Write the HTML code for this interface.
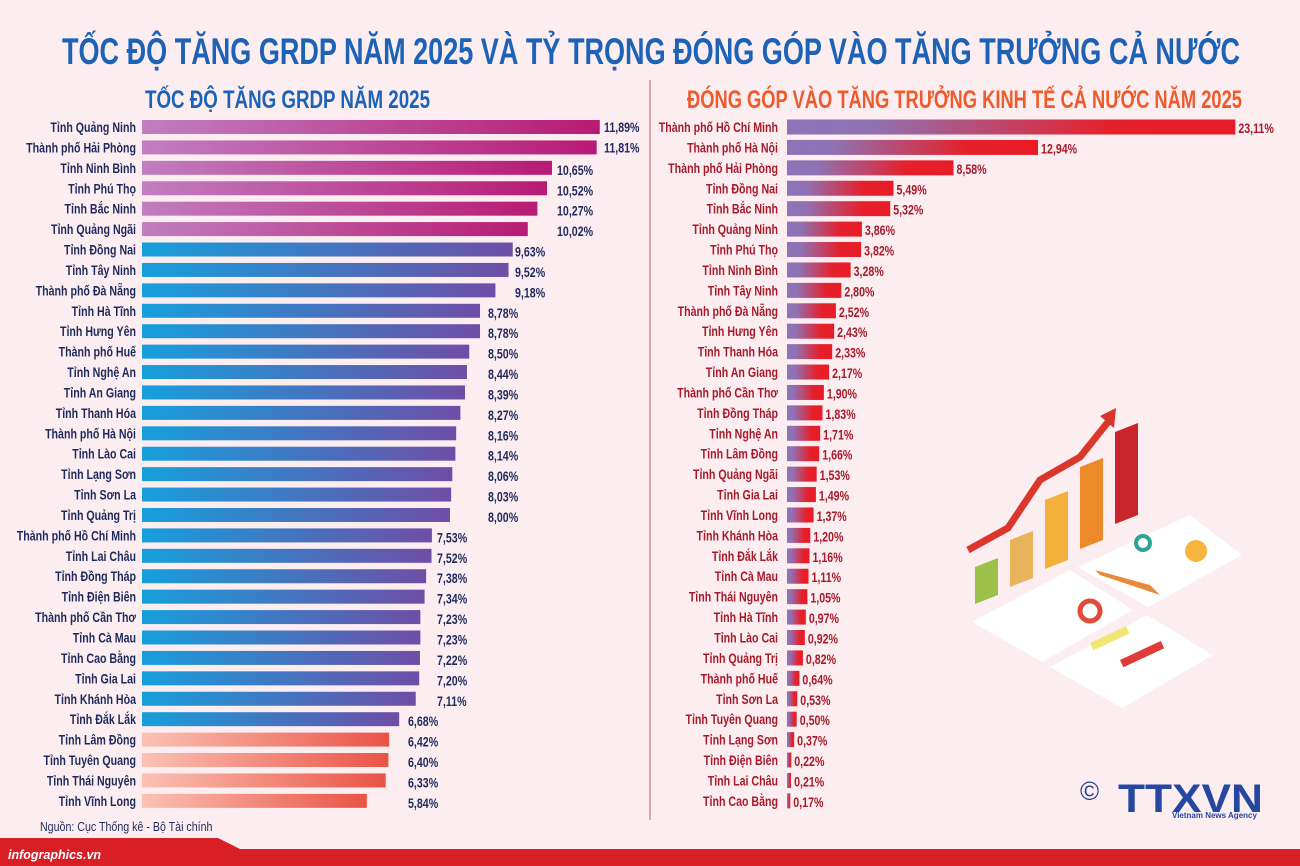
<!DOCTYPE html>
<html><head><meta charset="utf-8"><style>
html,body{margin:0;padding:0;background:#fcedf1;}
svg{display:block;}
.lb{font-family:"Liberation Sans",sans-serif;font-weight:bold;font-size:14px;fill:#1f2a5c;}
.rl{font-family:"Liberation Sans",sans-serif;font-weight:bold;font-size:14px;fill:#a61b2a;}
</style></head><body>
<svg width="1300" height="866" viewBox="0 0 1300 866" xmlns="http://www.w3.org/2000/svg">
<defs>
<linearGradient id="gp" x1="0" x2="1"><stop offset="0" stop-color="#c17ec0"/><stop offset="1" stop-color="#b81a74"/></linearGradient>
<linearGradient id="gb" x1="0" x2="1"><stop offset="0" stop-color="#169fdc"/><stop offset="1" stop-color="#6e4ea6"/></linearGradient>
<linearGradient id="gs" x1="0" x2="1"><stop offset="0" stop-color="#fbc2b4"/><stop offset="1" stop-color="#ea5346"/></linearGradient>
<linearGradient id="gr" x1="0" x2="1"><stop offset="0" stop-color="#8b74b8"/><stop offset="0.18" stop-color="#8f72b4"/><stop offset="0.72" stop-color="#e6202b"/><stop offset="1" stop-color="#e81c26"/></linearGradient>
</defs>
<rect width="1300" height="866" fill="#fcedf1"/>
<text x="62" y="64" textLength="1178" lengthAdjust="spacingAndGlyphs" font-family="Liberation Sans, sans-serif" font-weight="bold" font-size="37" fill="#1c62b6">TỐC ĐỘ TĂNG GRDP NĂM 2025 VÀ TỶ TRỌNG ĐÓNG GÓP VÀO TĂNG TRƯỞNG CẢ NƯỚC</text>
<text x="145" y="108" textLength="285" lengthAdjust="spacingAndGlyphs" font-family="Liberation Sans, sans-serif" font-weight="bold" font-size="25" fill="#1c62b6">TỐC ĐỘ TĂNG GRDP NĂM 2025</text>
<text x="687" y="108" textLength="555" lengthAdjust="spacingAndGlyphs" font-family="Liberation Sans, sans-serif" font-weight="bold" font-size="25" fill="#ef5a2a">ĐÓNG GÓP VÀO TĂNG TRƯỞNG KINH TẾ CẢ NƯỚC NĂM 2025</text>
<line x1="650" y1="80" x2="650" y2="820" stroke="#cc8fa0" stroke-width="1.5"/>
<g id="left"></g>
<g id="right"></g>
<g>
<polygon points="972,622 1070,570 1133,610 1042,662" fill="#fff"/>
<polygon points="1078,567 1190,515 1242,555 1148,607" fill="#fff"/>
<polygon points="1050,667 1147,615 1213,655 1122,708" fill="#fff"/>
<polygon points="975,567 998,558 998,595 975,604" fill="#9cc04a"/>
<polygon points="1010,540 1033,531 1033,578 1010,587" fill="#e8b35a"/>
<polygon points="1045,500 1068,491 1068,560 1045,569" fill="#f3b13c"/>
<polygon points="1080,467 1103,458 1103,540 1080,549" fill="#ec8a2a"/>
<polygon points="1115,432 1138,423 1138,515 1115,524" fill="#c8262a"/>
<polyline points="968,550 1008,528 1040,480 1080,457 1108,422" fill="none" stroke="#d9362c" stroke-width="7"/>
<polygon points="1100,416 1116,408 1114,428" fill="#d9362c"/>
<circle cx="1090" cy="611" r="10" fill="none" stroke="#e24a3a" stroke-width="5"/>
<circle cx="1196" cy="551" r="11" fill="#f6b43c"/>
<circle cx="1143" cy="543" r="7" fill="none" stroke="#2aa596" stroke-width="4"/>
<rect x="1090" y="643" width="40" height="8" fill="#f2e670" transform="rotate(-25 1090 643)"/>
<rect x="1120" y="660" width="45" height="8" fill="#e03a3a" transform="rotate(-25 1120 660)"/>
<polygon points="1095,570 1150,585 1160,595 1100,575" fill="#e88a3a"/>
</g>
<text x="1080" y="800" font-family="Liberation Sans, sans-serif" font-size="26" fill="#2a3e8e">©</text>
<text x="1118" y="812" textLength="145" lengthAdjust="spacingAndGlyphs" font-family="Liberation Sans, sans-serif" font-weight="bold" font-size="40" fill="#2647a0">TTXVN</text>
<text x="1172" y="818" font-family="Liberation Sans, sans-serif" font-weight="bold" font-size="8" fill="#2647a0">Vietnam News Agency</text>
<text x="40" y="831" font-family="Liberation Sans, sans-serif" font-size="13" fill="#1f2a5c" transform="translate(40,0) scale(0.82,1) translate(-40,0)">Nguồn: Cục Thống kê - Bộ Tài chính</text>
<polygon points="0,838 218,838 240,849 1300,849 1300,866 0,866" fill="#d81f26"/>
<text x="8" y="859" font-family="Liberation Sans, sans-serif" font-style="italic" font-weight="bold" font-size="12.5" fill="#fff">infographics.vn</text>
</svg>
<script>
var L=[["Tỉnh Quảng Ninh",11.89],["Thành phố Hải Phòng",11.81],["Tỉnh Ninh Bình",10.65],["Tỉnh Phú Thọ",10.52],["Tỉnh Bắc Ninh",10.27],["Tỉnh Quảng Ngãi",10.02],["Tỉnh Đồng Nai",9.63],["Tỉnh Tây Ninh",9.52],["Thành phố Đà Nẵng",9.18],["Tỉnh Hà Tĩnh",8.78],["Tỉnh Hưng Yên",8.78],["Thành phố Huế",8.50],["Tỉnh Nghệ An",8.44],["Tỉnh An Giang",8.39],["Tỉnh Thanh Hóa",8.27],["Thành phố Hà Nội",8.16],["Tỉnh Lào Cai",8.14],["Tỉnh Lạng Sơn",8.06],["Tỉnh Sơn La",8.03],["Tỉnh Quảng Trị",8.00],["Thành phố Hồ Chí Minh",7.53],["Tỉnh Lai Châu",7.52],["Tỉnh Đồng Tháp",7.38],["Tỉnh Điện Biên",7.34],["Thành phố Cần Thơ",7.23],["Tỉnh Cà Mau",7.23],["Tỉnh Cao Bằng",7.22],["Tỉnh Gia Lai",7.20],["Tỉnh Khánh Hòa",7.11],["Tỉnh Đắk Lắk",6.68],["Tỉnh Lâm Đồng",6.42],["Tỉnh Tuyên Quang",6.40],["Tỉnh Thái Nguyên",6.33],["Tỉnh Vĩnh Long",5.84]];
var R=[["Thành phố Hồ Chí Minh",23.11],["Thành phố Hà Nội",12.94],["Thành phố Hải Phòng",8.58],["Tỉnh Đồng Nai",5.49],["Tỉnh Bắc Ninh",5.32],["Tỉnh Quảng Ninh",3.86],["Tỉnh Phú Thọ",3.82],["Tỉnh Ninh Bình",3.28],["Tỉnh Tây Ninh",2.80],["Thành phố Đà Nẵng",2.52],["Tỉnh Hưng Yên",2.43],["Tỉnh Thanh Hóa",2.33],["Tỉnh An Giang",2.17],["Thành phố Cần Thơ",1.90],["Tỉnh Đồng Tháp",1.83],["Tỉnh Nghệ An",1.71],["Tỉnh Lâm Đồng",1.66],["Tỉnh Quảng Ngãi",1.53],["Tỉnh Gia Lai",1.49],["Tỉnh Vĩnh Long",1.37],["Tỉnh Khánh Hòa",1.20],["Tỉnh Đắk Lắk",1.16],["Tỉnh Cà Mau",1.11],["Tỉnh Thái Nguyên",1.05],["Tỉnh Hà Tĩnh",0.97],["Tỉnh Lào Cai",0.92],["Tỉnh Quảng Trị",0.82],["Thành phố Huế",0.64],["Tỉnh Sơn La",0.53],["Tỉnh Tuyên Quang",0.50],["Tỉnh Lạng Sơn",0.37],["Tỉnh Điện Biên",0.22],["Tỉnh Lai Châu",0.21],["Tỉnh Cao Bằng",0.17]];
var ns="http://www.w3.org/2000/svg";
function el(p,t,a,txt){var e=document.createElementNS(ns,t);for(var k in a)e.setAttribute(k,a[k]);if(txt)e.textContent=txt;p.appendChild(e);return e;}
function tx(p,x,y,cls,anchor,s){return el(p,"text",{x:0,y:0,"class":cls,"text-anchor":anchor,transform:"translate("+x+","+y+") scale(0.76,1)"},s);}
var gl=document.getElementById("left"),gr=document.getElementById("right");
function fmt(v){return v.toFixed(2).replace(".",",")+"%";}
L.forEach(function(d,i){var y=127+i*20.42;var w=d[1]*38.5;
var f=i<6?"url(#gp)":(i<30?"url(#gb)":"url(#gs)");
el(gl,"rect",{x:142,y:y-7,width:w,height:14,fill:f});
tx(gl,136,y+5,"lb","end",d[0]);
var lx=i<2?604:i<6?557:i<9?515:i<20?488:i<29?437:408;
tx(gl,lx,y+5+(i>=2?2:0),"lb","start",fmt(d[1]));});
R.forEach(function(d,i){var y=127+i*20.42;var w=Math.max(d[1]*19.4,3);
el(gr,"rect",{x:787,y:y-7.5,width:w,height:15,fill:"url(#gr)"});
tx(gr,778,y+5,"rl","end",d[0]);
tx(gr,787+w+3,y+6,"rl","start",fmt(d[1]));});
</script>
</body></html>
